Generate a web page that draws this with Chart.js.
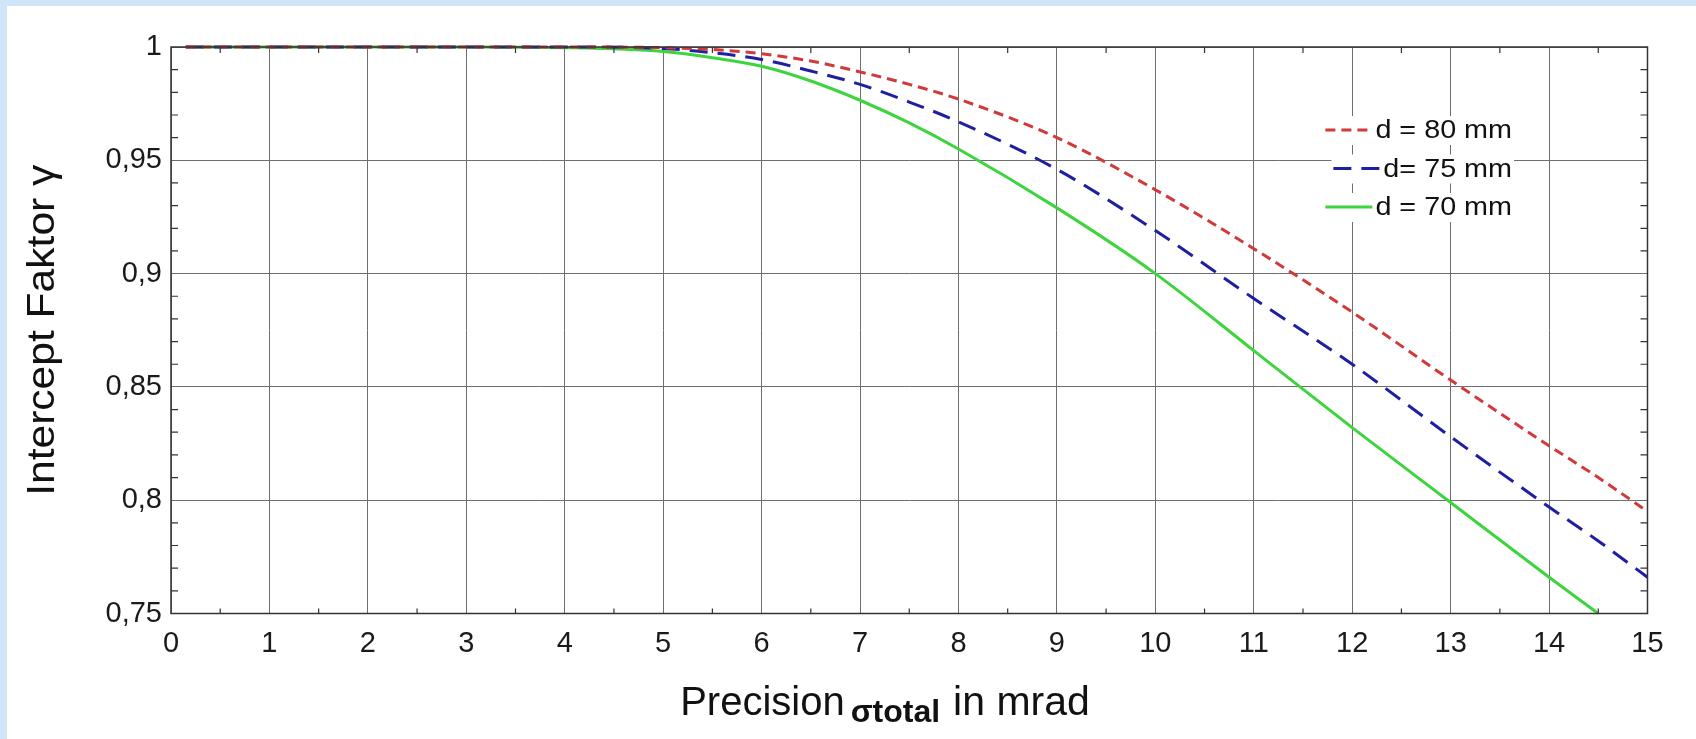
<!DOCTYPE html>
<html>
<head>
<meta charset="utf-8">
<script src="https://cdn.jsdelivr.net/npm/chart.js@4.4.1/dist/chart.umd.min.js"></script>
<style>
html,body{margin:0;padding:0;background:#fff;}
#caixa{width:1696px;height:739px;}
</style>
</head>
<body>
<div id="caixa"><canvas id="GraficoIntercept" width="1696" height="739"></canvas></div>
<script>
// precision sigma_total in mrad
const precisao = [0.15, 1, 2, 3, 4, 5, 5.5, 6, 6.5, 7, 7.5, 8, 9, 10, 11, 12, 13, 14, 14.5, 15];
// intercept factor gamma per diameter
const gamma80 = [1, 1, 1, 1, 1, 0.9997, 0.9989, 0.997, 0.9938, 0.989, 0.9835, 0.977, 0.960, 0.937, 0.911, 0.883, 0.853, 0.824, 0.810, 0.795];
const gamma75 = [1, 1, 1, 1, 1, 0.9993, 0.9975, 0.9945, 0.9894, 0.9835, 0.9757, 0.967, 0.946, 0.919, 0.889, 0.860, 0.828, 0.797, 0.782, 0.766];
const gamma70 = [1, 1, 1, 1, 0.9997, 0.998, 0.9953, 0.9915, 0.985, 0.9765, 0.9665, 0.955, 0.929, 0.900, 0.866, 0.832, 0.799, 0.766, 0.750, null];
const nomes = ["d = 80 mm", "d= 75 mm", "d = 70 mm"];
const yTicksValores = [0.75, 0.8, 0.85, 0.9, 0.95, 1];
const yTicksTextos = ["0,75", "0,8", "0,85", "0,9", "0,95", "1"];

const FONTE = '"Liberation Sans", Arial, sans-serif';
Chart.defaults.font.family = FONTE;

function pares(ys) {
    return precisao.map((x, i) => ({x: x, y: ys[i]}));
}

// fundo azul, moldura, ticks menores, legenda e titulos
const extras = {
    id: "extras",
    beforeDraw(chart) {
        const ctx = chart.ctx;
        ctx.save();
        ctx.fillStyle = "#cfe6f8";
        ctx.fillRect(0, 0, chart.width, chart.height);
        ctx.fillStyle = "#fff";
        ctx.fillRect(7, 6, chart.width - 7, chart.height - 6);
        ctx.restore();
    },
    afterDatasetsDraw(chart) {
        const ctx = chart.ctx;
        const a = chart.chartArea;
        const sx = chart.scales.x, sy = chart.scales.y;
        ctx.save();
        ctx.strokeStyle = "#333";
        ctx.lineWidth = 1.5;
        ctx.strokeRect(a.left, a.top, a.right - a.left, a.bottom - a.top);

        ctx.lineWidth = 1.2;
        ctx.beginPath();
        for (let k = 1; k < 25; k++) {
            if (k % 5 === 0) continue;
            const py = sy.getPixelForValue(0.75 + k * 0.01);
            ctx.moveTo(a.left, py); ctx.lineTo(a.left + 7, py);
            ctx.moveTo(a.right, py); ctx.lineTo(a.right - 7, py);
        }
        for (let k = 0; k < 15; k++) {
            const px = sx.getPixelForValue(k + 0.5);
            ctx.moveTo(px, a.bottom); ctx.lineTo(px, a.bottom - 5);
            ctx.moveTo(px, a.top); ctx.lineTo(px, a.top + 6);
        }
        ctx.stroke();

        // legenda (texto alinhado a direita, linha logo antes)
        const estica = 1.15;
        ctx.font = "25px " + FONTE;
        ctx.textBaseline = "alphabetic";
        ctx.textAlign = "left";
        chart.data.datasets.forEach((ds, i) => {
            const base = a.top + 91 + i * 38.5;
            const w = ctx.measureText(ds.label).width * estica;
            const x0 = a.right - 135.5 - w;
            ctx.fillStyle = "#fff";
            ctx.fillRect(x0 - 52, base - 22, w + 54, 29);
            ctx.strokeStyle = ds.borderColor;
            ctx.lineWidth = 3;
            ctx.setLineDash(ds.borderDash || []);
            ctx.beginPath();
            ctx.moveTo(x0 - 50, base - 8);
            ctx.lineTo(x0 - 3, base - 8);
            ctx.stroke();
            ctx.setLineDash([]);
            ctx.fillStyle = "#111";
            ctx.save();
            ctx.translate(x0, base);
            ctx.scale(estica, 1);
            ctx.fillText(ds.label, 0, 0);
            ctx.restore();
        });
        ctx.restore();
    },
    afterDraw(chart) {
        const ctx = chart.ctx;
        const a = chart.chartArea;
        ctx.save();
        ctx.fillStyle = "#111";
        ctx.textBaseline = "alphabetic";

        // titulo y
        ctx.save();
        ctx.font = "38px " + FONTE;
        ctx.textAlign = "center";
        ctx.translate(54, (a.top + a.bottom) / 2);
        ctx.rotate(-Math.PI / 2);
        ctx.scale(1.12, 1);
        ctx.fillText("Intercept Faktor \u03b3", 0, 0);
        ctx.restore();

        // titulo x com subscrito
        const partes = [
            {t: "Precision", f: "40px " + FONTE, dy: 0, gap: 0},
            {t: "\u03c3total", f: "bold 32px " + FONTE, dy: 7, gap: 6},
            {t: "in mrad", f: "41px " + FONTE, dy: 0, gap: 13}
        ];
        let total = 0;
        partes.forEach(p => { ctx.font = p.f; p.w = ctx.measureText(p.t).width; total += p.w + p.gap; });
        let x = 885 - total / 2;
        const base = a.bottom + 101;
        ctx.textAlign = "left";
        partes.forEach(p => {
            x += p.gap;
            ctx.font = p.f;
            ctx.fillText(p.t, x, base + p.dy);
            x += p.w;
        });
        ctx.restore();
    }
};

let grafico = new Chart(document.getElementById("GraficoIntercept"), {
    type: "line",
    data: {
        datasets: [
            {label: nomes[0], data: pares(gamma80), borderColor: "#d03a3a", borderWidth: 3, borderDash: [10, 6], pointRadius: 0, fill: false, cubicInterpolationMode: "monotone", clip: 3},
            {label: nomes[1], data: pares(gamma75), borderColor: "#1f1fa0", borderWidth: 3, borderDash: [18, 10], pointRadius: 0, fill: false, cubicInterpolationMode: "monotone", clip: 3},
            {label: nomes[2], data: pares(gamma70), borderColor: "#3ed43e", borderWidth: 3, pointRadius: 0, fill: false, cubicInterpolationMode: "monotone", clip: 3, spanGaps: false}
        ]
    },
    options: {
        responsive: false,
        animation: false,
        layout: {padding: {top: 47, right: 48.5, left: 0, bottom: 0}},
        plugins: {legend: {display: false}, tooltip: {enabled: false}},
        scales: {
            x: {
                type: "linear", min: 0, max: 15,
                ticks: {stepSize: 1, color: "#1a1a1a", font: {size: 29}, padding: 13, maxRotation: 0},
                grid: {color: "#6e6e6e", lineWidth: 1, drawTicks: false},
                border: {display: false},
                afterFit: s => { s.height = 125.5; }
            },
            y: {
                type: "linear", min: 0.75, max: 1,
                ticks: {
                    stepSize: 0.05, color: "#1a1a1a", font: {size: 29}, padding: 9,
                    callback: v => {
                        const i = yTicksValores.findIndex(t => Math.abs(t - v) < 1e-6);
                        return i >= 0 ? yTicksTextos[i] : "";
                    }
                },
                grid: {color: "#6e6e6e", lineWidth: 1, drawTicks: false},
                border: {display: false},
                afterFit: s => { s.width = 171; }
            }
        }
    },
    plugins: [extras]
});
</script>
</body>
</html>
